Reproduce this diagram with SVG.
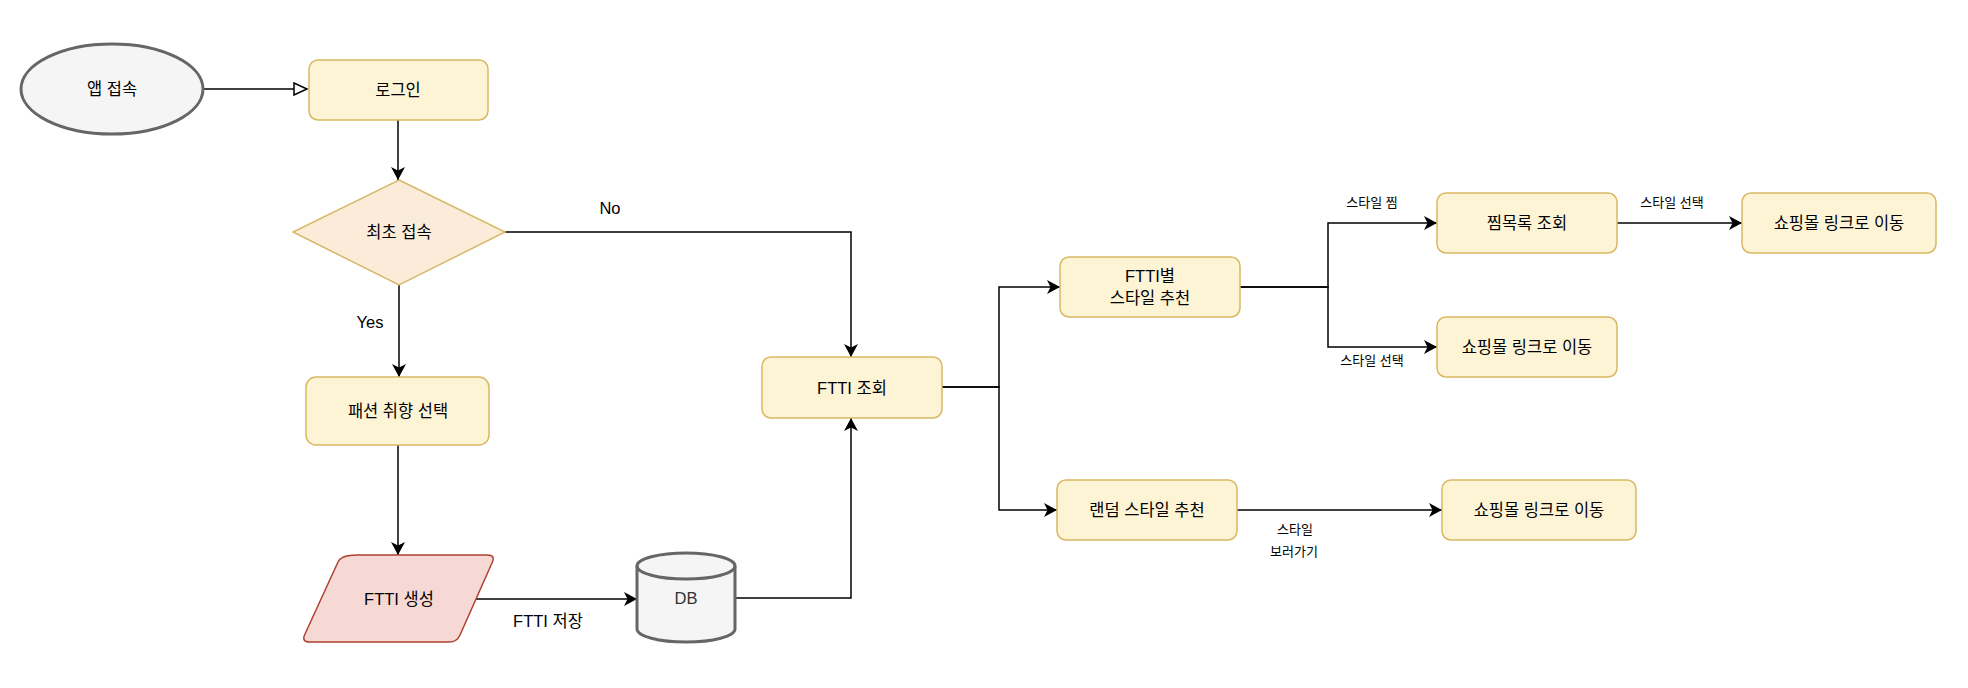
<svg xmlns="http://www.w3.org/2000/svg" width="1968" height="688" viewBox="0 0 1968 688">
<style>
text{font-family:"Liberation Sans","Noto Sans CJK KR",sans-serif;fill:#000;text-anchor:middle;dominant-baseline:central;font-weight:normal}
.t{font-size:16.5px}
.s{font-size:13px}
.box{fill:#fdf4d6;stroke:#d9b862;stroke-width:1.5}
.gray{fill:#f5f5f5;stroke:#666;stroke-width:3}
.edge{fill:none;stroke:#000;stroke-width:1.5}
</style>
<defs>
<marker id="arr" markerUnits="userSpaceOnUse" markerWidth="14" markerHeight="14" refX="13" refY="7" orient="auto">
<path d="M0,0 L13,7 L0,14 L3.5,7 Z" fill="#000"/>
</marker>
<marker id="open" markerUnits="userSpaceOnUse" markerWidth="16" markerHeight="14" refX="14" refY="7" orient="auto">
<path d="M1,1 L14,7 L1,13 Z" fill="#fff" stroke="#000" stroke-width="1.5"/>
</marker>
</defs>
<g id="connectors">
<path class="edge" d="M203,89 H307" marker-end="url(#open)"/>
<path class="edge" d="M398,120 V180" marker-end="url(#arr)"/>
<path class="edge" d="M505,232 H851 V357" marker-end="url(#arr)"/>
<path class="edge" d="M399,285 V377" marker-end="url(#arr)"/>
<path class="edge" d="M398,445 V555" marker-end="url(#arr)"/>
<path class="edge" d="M474,599 H637" marker-end="url(#arr)"/>
<path class="edge" d="M735,598 H851 V418" marker-end="url(#arr)"/>
<path class="edge" d="M942,387 H999 V287 H1060" marker-end="url(#arr)"/>
<path class="edge" d="M942,387 H999 V510 H1057" marker-end="url(#arr)"/>
<path class="edge" d="M1240,287 H1328 V223 H1437" marker-end="url(#arr)"/>
<path class="edge" d="M1240,287 H1328 V347 H1437" marker-end="url(#arr)"/>
<path class="edge" d="M1617,223 H1742" marker-end="url(#arr)"/>
<path class="edge" d="M1237,510 H1442" marker-end="url(#arr)"/>
<text class="t" x="610" y="208">No</text>
<text class="t" x="370" y="322">Yes</text>
<text class="t" x="548" y="621">FTTI 저장</text>
<text class="s" x="1372" y="202">스타일 찜</text>
<text class="s" x="1672" y="202">스타일 선택</text>
<text class="s" x="1372" y="360">스타일 선택</text>
<text class="s" x="1295" y="529">스타일</text>
<text class="s" x="1294" y="551">보러가기</text>
</g>
<g id="app">
<ellipse class="gray" cx="112" cy="89" rx="91" ry="45"/>
<text class="t" x="112" y="89">앱 접속</text>
</g>
<g id="login">
<rect class="box" x="309" y="60" width="179" height="60" rx="9"/>
<text class="t" x="398" y="90">로그인</text>
</g>
<g id="first">
<polygon points="399,180 505,232 399,285 293,232" fill="#fbecda" stroke="#d9b862" stroke-width="1.5"/>
<text class="t" x="399" y="232">최초 접속</text>
</g>
<g id="taste">
<rect class="box" x="306" y="377" width="183" height="68" rx="10"/>
<text class="t" x="398" y="411">패션 취향 선택</text>
</g>
<g id="ftti-gen">
<path d="M357,555 H487 Q496,555 492,563 L460,635 Q457,642 449,642 H310 Q301,642 305,634 L338,562 Q341,555 357,555 Z" fill="#f6d9d5" stroke="#ae4132" stroke-width="1.5"/>
<text class="t" x="399" y="599">FTTI 생성</text>
</g>
<g id="db">
<path class="gray" d="M637,566 A49,13 0 0 1 735,566 V629 A49,13 0 0 1 637,629 Z"/>
<path d="M637,566 A49,13 0 0 0 735,566" fill="none" stroke="#666" stroke-width="3"/>
<text class="t" x="686" y="598" style="fill:#333">DB</text>
</g>
<g id="ftti-query">
<rect class="box" x="762" y="357" width="180" height="61" rx="9"/>
<text class="t" x="852" y="388">FTTI 조회</text>
</g>
<g id="ftti-style">
<rect class="box" x="1060" y="257" width="180" height="60" rx="9"/>
<text class="t" x="1150" y="276">FTTI별</text>
<text class="t" x="1150" y="298">스타일 추천</text>
</g>
<g id="random-style">
<rect class="box" x="1057" y="480" width="180" height="60" rx="9"/>
<text class="t" x="1147" y="510">랜덤 스타일 추천</text>
</g>
<g id="wishlist">
<rect class="box" x="1437" y="193" width="180" height="60" rx="9"/>
<text class="t" x="1527" y="223">찜목록 조회</text>
</g>
<g id="shop1">
<rect class="box" x="1742" y="193" width="194" height="60" rx="9"/>
<text class="t" x="1839" y="223">쇼핑몰 링크로 이동</text>
</g>
<g id="shop2">
<rect class="box" x="1437" y="317" width="180" height="60" rx="9"/>
<text class="t" x="1527" y="347">쇼핑몰 링크로 이동</text>
</g>
<g id="shop3">
<rect class="box" x="1442" y="480" width="194" height="60" rx="9"/>
<text class="t" x="1539" y="510">쇼핑몰 링크로 이동</text>
</g>
</svg>
